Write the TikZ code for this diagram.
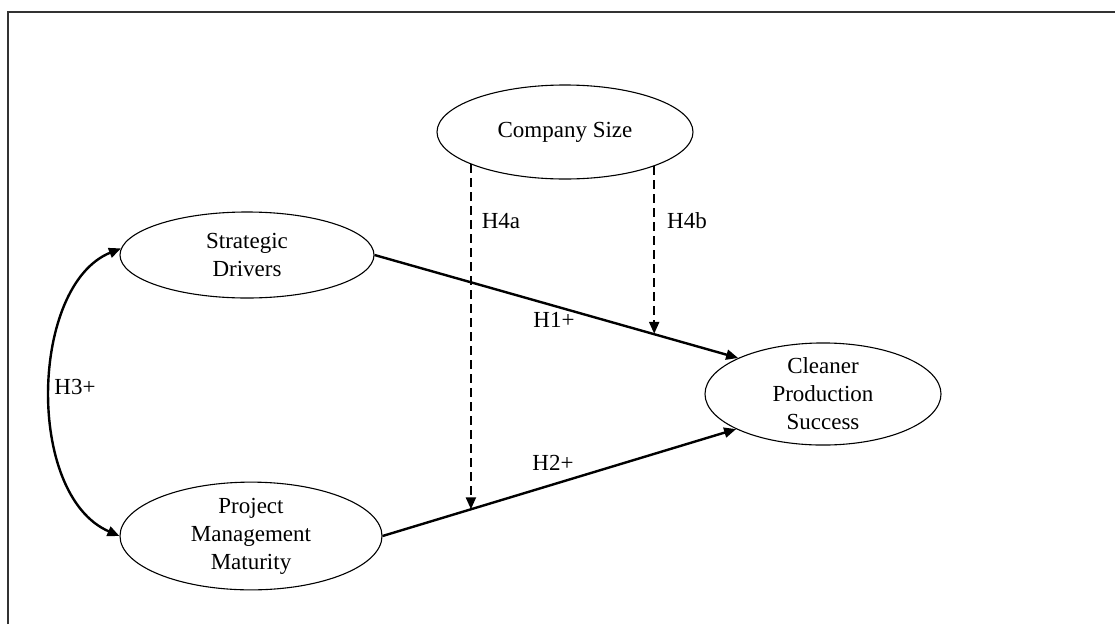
\documentclass[tikz,border=0pt]{standalone}
\usepackage{fontspec}
\setmainfont{Liberation Serif}
\usetikzlibrary{shapes.geometric,arrows.meta,calc}
\begin{document}
\begin{tikzpicture}[x=1pt,y=-1pt,
  construct/.style={draw, ellipse, line width=1.1pt, inner sep=0pt, align=center,
    font=\fontsize{23}{28}\selectfont},
  lbl/.style={font=\fontsize{23}{28}\selectfont, inner sep=0pt},
  path/.style={line width=2.4pt, -{Triangle[length=12pt,width=10pt]}},
  both/.style={line width=2.4pt, {Triangle[length=12pt,width=10pt]}-{Triangle[length=12pt,width=10pt]}},
  moder/.style={line width=2.3pt, dash pattern=on 9pt off 5pt, -{Triangle[length=12pt,width=10pt]}},
  frame/.style={line width=2pt, draw=black!80}]
\useasboundingbox (0,0) rectangle (1115,624);
\coordinate (fl) at (8,624);
\coordinate (fc) at (8,12);
\coordinate (fr) at (1115,12);
\draw[frame] (fl) -- (fc) -- (fr);

\node[construct, minimum width=256pt, minimum height=94pt] (CS) at (565,132) {Company Size};
\node[construct, minimum width=254pt, minimum height=86pt] (SD) at (247,255) {Strategic\\Drivers};
\node[construct, minimum width=262pt, minimum height=96pt] (PMM) at (251,536) {Project\\Management\\Maturity};
\node[construct, minimum width=236pt, minimum height=94pt] (CPS) at (823,394) {Cleaner\\Production\\Success};

\draw[path] (SD.east) -- (CPS.157);
\draw[path] (PMM.east) -- (CPS.202);
\draw[both] (SD.177) .. controls (30,285) and (25,495) .. (PMM.west);

\coordinate (a) at ($(PMM.east)!0.25!(CPS.202)$);
\coordinate (b) at ($(SD.east)!0.765!(CPS.157)$);
\draw[moder] (CS.199) -- (CS.199 |- a);
\draw[moder] (CS.339) -- (CS.339 |- b);

\node[lbl] (h1) at (554,320) {H1+};
\node[lbl] (h2) at (553,463) {H2+};
\node[lbl] (h3) at (75,387) {H3+};
\node[lbl] (h4a) at (501,221) {H4a};
\node[lbl] (h4b) at (687,221) {H4b};
\end{tikzpicture}
\end{document}
